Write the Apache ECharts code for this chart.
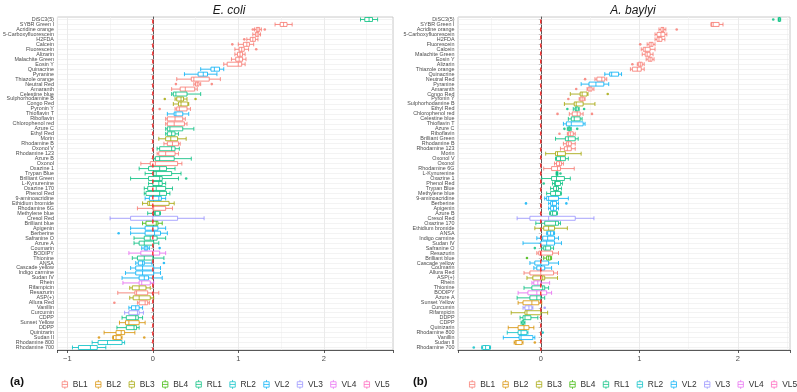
<!DOCTYPE html>
<html>
<head>
<meta charset="utf-8">
<script src="https://cdn.jsdelivr.net/npm/echarts@6/dist/echarts.min.js"></script>
<style>
html, body { margin: 0; padding: 0; background: #fff; }
#chart { width: 797px; height: 392px; }
</style>
</head>
<body>
<div id="chart"></div>
<script>
// channels and their ggplot hue colours
const channels = ['BL1', 'BL2', 'BL3', 'BL4', 'RL1', 'RL2', 'VL2', 'VL3', 'VL4', 'VL5']
const channelColors = ['#F8766D', '#D89000', '#A3A500', '#39B600', '#00BF7D', '#00BFC4', '#00B0F6', '#9590FF', '#E76BF3', '#FF62BC']

// ---- E. coli (top to bottom) ----
const ecoliDyes = ['DiSC3(5)', 'SYBR Green I', 'Acridine orange', '5-Carboxyfluorescein', 'H2FDA', 'Calcein', 'Fluorescein', 'Alizarin', 'Malachite Green', 'Eosin Y',
  'Quinacrine', 'Pyranine', 'Thiazole orange', 'Neutral Red', 'Amaranth', 'Celestine blue', 'Sulphorhodamine B', 'Congo Red', 'Pyronin Y', 'Thioflavin T',
  'Riboflavin', 'Chlorophenol red', 'Azure C', 'Ethyl Red', 'Morin', 'Rhodamine B', 'Oxonol V', 'Rhodamine 123', 'Azure B', 'Oxonol',
  'Oxazine 1', 'Trypan Blue', 'Brilliant Green', 'L-Kynurenine', 'Oxazine 170', 'Phenol Red', '9-aminoacridine', 'Ethidium bromide', 'Rhodamine 6G', 'Methylene blue',
  'Cresol Red', 'Brilliant blue', 'Apigenin', 'Berberine', 'Safranine O', 'Azure A', 'Coumarin', 'BODIPY', 'Thionine', 'ANSA',
  'Cascade yellow', 'Indigo carmine', 'Sudan IV', 'Rhein', 'Rifampicin', 'Resazurin', 'ASP(+)', 'Allura Red', 'Vanillin', 'Curcumin',
  'CDPP', 'Sunset Yellow', 'DDPP', 'Quinizarin', 'Sudan II', 'Rhodamine 800', 'Rhodamine 700']
const ecoliChannel = ['RL1', 'BL1', 'BL1', 'BL1', 'BL1', 'BL1', 'BL1', 'BL1', 'BL1', 'BL1',
  'VL2', 'VL2', 'BL1', 'BL1', 'BL1', 'RL1', 'BL3', 'BL3', 'BL1', 'VL2',
  'BL1', 'BL1', 'RL1', 'RL1', 'BL3', 'BL1', 'RL1', 'BL1', 'RL1', 'BL1',
  'RL1', 'RL1', 'RL1', 'RL1', 'RL1', 'RL1', 'VL2', 'BL3', 'BL1', 'RL1',
  'VL3', 'BL4', 'VL2', 'VL2', 'RL1', 'RL1', 'VL2', 'VL4', 'RL1', 'VL2',
  'VL2', 'VL2', 'VL2', 'VL4', 'BL3', 'BL1', 'BL3', 'BL1', 'VL2', 'VL3',
  'RL1', 'BL2', 'RL1', 'BL2', 'BL2', 'RL2', 'RL2']
// [min, Q1, median, Q3, max]
const ecoliBoxes = [
  [2.43, 2.48, 2.53, 2.57, 2.63], [1.43, 1.49, 1.53, 1.57, 1.63], [1.19, 1.21, 1.23, 1.25, 1.27], [1.17, 1.2, 1.22, 1.24, 1.26], [1.1, 1.14, 1.17, 1.2, 1.23],
  [1.0, 1.06, 1.1, 1.13, 1.18], [0.96, 1.01, 1.04, 1.07, 1.12], [0.96, 0.99, 1.02, 1.05, 1.08], [0.92, 0.97, 1.01, 1.05, 1.09], [0.83, 0.87, 1.0, 1.04, 1.08],
  [0.56, 0.68, 0.72, 0.78, 0.83], [0.37, 0.53, 0.59, 0.64, 0.75], [0.28, 0.45, 0.48, 0.66, 0.79], [0.48, 0.5, 0.52, 0.54, 0.56], [0.22, 0.32, 0.38, 0.49, 0.52],
  [0.22, 0.24, 0.27, 0.4, 0.56], [0.26, 0.28, 0.33, 0.36, 0.4], [0.24, 0.3, 0.33, 0.41, 0.42], [0.26, 0.28, 0.31, 0.4, 0.44], [0.17, 0.25, 0.27, 0.35, 0.42],
  [0.15, 0.17, 0.26, 0.35, 0.38], [0.15, 0.17, 0.25, 0.37, 0.4], [0.15, 0.17, 0.2, 0.35, 0.48], [0.15, 0.17, 0.22, 0.26, 0.3], [0.07, 0.15, 0.21, 0.29, 0.39],
  [0.13, 0.17, 0.23, 0.3, 0.32], [0.05, 0.08, 0.22, 0.26, 0.31], [0.05, 0.07, 0.15, 0.26, 0.3], [0.01, 0.03, 0.08, 0.25, 0.45], [-0.14, -0.03, 0.03, 0.29, 0.34],
  [-0.16, -0.05, 0.08, 0.16, 0.26], [-0.09, 0.01, 0.04, 0.22, 0.33], [-0.26, -0.05, 0.08, 0.11, 0.3], [-0.05, 0.0, 0.07, 0.11, 0.15], [-0.1, -0.06, 0.04, 0.15, 0.23],
  [-0.1, -0.08, 0.08, 0.16, 0.2], [-0.09, -0.04, 0.07, 0.1, 0.15], [-0.12, -0.06, -0.04, 0.19, 0.25], [-0.18, 0.0, 0.01, 0.15, 0.23], [-0.06, 0.02, 0.03, 0.08, 0.09],
  [-0.5, -0.26, 0.0, 0.29, 0.6], [-0.12, -0.08, 0.04, 0.06, 0.11], [-0.26, -0.09, 0.0, 0.06, 0.15], [-0.26, -0.09, 0.02, 0.09, 0.17], [-0.22, -0.1, -0.03, 0.05, 0.15],
  [-0.22, -0.16, -0.1, 0.01, 0.07], [-0.13, -0.1, -0.08, -0.06, -0.04], [-0.28, -0.14, 0.0, 0.08, 0.15], [-0.24, -0.18, -0.1, 0.0, 0.13], [-0.2, -0.17, -0.12, -0.1, -0.01],
  [-0.26, -0.2, -0.12, 0.01, 0.09], [-0.32, -0.2, -0.12, 0.01, 0.09], [-0.36, -0.16, -0.1, -0.05, 0.11], [-0.35, -0.16, -0.13, -0.03, 0.01], [-0.27, -0.24, -0.16, -0.08, -0.03],
  [-0.41, -0.21, -0.19, -0.06, 0.07], [-0.27, -0.23, -0.16, -0.03, 0.01], [-0.18, -0.16, -0.09, -0.06, -0.04], [-0.28, -0.25, -0.2, -0.16, -0.12], [-0.33, -0.28, -0.18, -0.16, -0.11],
  [-0.36, -0.31, -0.2, -0.17, -0.12], [-0.39, -0.32, -0.28, -0.16, -0.09], [-0.42, -0.31, -0.22, -0.19, -0.16], [-0.57, -0.43, -0.37, -0.33, -0.21], [-0.47, -0.46, -0.43, -0.37, -0.36],
  [-0.71, -0.64, -0.53, -0.36, -0.33], [-0.94, -0.87, -0.73, -0.65, -0.55]]
// [dye index, value]
const ecoliOutliers = [[2, 1.17], [2, 1.31], [4, 1.07], [5, 0.93], [6, 1.21], [13, 0.27], [13, 0.69], [16, 0.14], [16, 0.5], [18, 0.08],
  [32, 0.39], [43, -0.4], [46, 0.08], [49, 0.13], [57, -0.45], [64, -0.63], [64, -0.1]]

// ---- A. baylyi (top to bottom) ----
const baylyiDyes = ['DiSC3(5)', 'SYBR Green I', 'Acridine orange', '5-Carboxyfluorescein', 'H2FDA', 'Fluorescein', 'Calcein', 'Malachite Green', 'Eosin Y', 'Alizarin',
  'Thiazole orange', 'Quinacrine', 'Neutral Red', 'Pyranine', 'Amaranth', 'Congo Red', 'Pyronin Y', 'Sulphorhodamine B', 'Ethyl Red', 'Chlorophenol red',
  'Celestine blue', 'Thioflavin T', 'Azure C', 'Riboflavin', 'Brilliant Green', 'Rhodamine B', 'Rhodamine 123', 'Morin', 'Oxonol V', 'Oxonol',
  'Rhodamine 6G', 'L-Kynurenine', 'Oxazine 1', 'Phenol Red', 'Trypan Blue', 'Methylene blue', '9-aminoacridine', 'Berberine', 'Apigenin', 'Azure B',
  'Cresol Red', 'Oxazine 170', 'Ethidium bromide', 'ANSA', 'Indigo carmine', 'Sudan IV', 'Safranine O', 'Resazurin', 'Brilliant blue', 'Cascade yellow',
  'Coumarin', 'Allura Red', 'ASP(+)', 'Rhein', 'Thionine', 'BODIPY', 'Azure A', 'Sunset Yellow', 'Curcumin', 'Rifampicin',
  'DDPP', 'CDPP', 'Quinizarin', 'Rhodamine 800', 'Vanillin', 'Sudan II', 'Rhodamine 700']
const baylyiChannel = ['RL1', 'BL1', 'BL1', 'BL1', 'BL1', 'BL1', 'BL1', 'BL1', 'BL1', 'BL1',
  'BL1', 'VL2', 'BL1', 'VL2', 'BL1', 'BL3', 'BL1', 'BL3', 'RL1', 'BL1',
  'RL1', 'VL2', 'RL1', 'BL1', 'RL1', 'BL1', 'BL1', 'BL3', 'RL1', 'BL1',
  'BL1', 'RL1', 'RL1', 'RL1', 'RL1', 'RL1', 'VL2', 'VL2', 'VL2', 'RL1',
  'VL3', 'RL1', 'BL3', 'VL2', 'VL2', 'VL2', 'RL1', 'BL1', 'BL4', 'VL2',
  'VL2', 'BL1', 'BL3', 'VL4', 'RL1', 'VL4', 'RL1', 'BL2', 'VL3', 'BL3',
  'RL1', 'RL1', 'BL2', 'RL2', 'VL2', 'BL2', 'RL2']
const baylyiBoxes = [
  [2.41, 2.415, 2.42, 2.43, 2.435], [1.73, 1.73, 1.75, 1.81, 1.85], [1.2, 1.22, 1.24, 1.25, 1.27], [1.16, 1.18, 1.22, 1.26, 1.28], [1.16, 1.18, 1.2, 1.23, 1.26],
  [1.08, 1.1, 1.12, 1.14, 1.16], [1.02, 1.04, 1.06, 1.11, 1.16], [1.03, 1.06, 1.08, 1.11, 1.14], [1.07, 1.09, 1.11, 1.13, 1.15], [0.98, 0.99, 1.01, 1.03, 1.05],
  [0.91, 0.93, 0.98, 1.02, 1.05], [0.65, 0.7, 0.72, 0.79, 0.82], [0.55, 0.57, 0.62, 0.65, 0.67], [0.41, 0.49, 0.56, 0.64, 0.69], [0.47, 0.48, 0.5, 0.52, 0.54],
  [0.3, 0.4, 0.42, 0.47, 0.48], [0.39, 0.4, 0.42, 0.44, 0.45], [0.24, 0.34, 0.36, 0.43, 0.55], [0.33, 0.35, 0.36, 0.38, 0.39], [0.29, 0.32, 0.37, 0.4, 0.43],
  [0.28, 0.31, 0.34, 0.4, 0.42], [0.23, 0.26, 0.31, 0.43, 0.45], [0.27, 0.28, 0.29, 0.3, 0.31], [0.27, 0.28, 0.3, 0.33, 0.35], [0.15, 0.25, 0.28, 0.35, 0.38],
  [0.23, 0.26, 0.28, 0.31, 0.35], [0.2, 0.24, 0.27, 0.31, 0.35], [0.05, 0.15, 0.17, 0.25, 0.41], [0.15, 0.16, 0.2, 0.25, 0.28], [0.14, 0.16, 0.19, 0.21, 0.23],
  [0.03, 0.11, 0.17, 0.2, 0.34], [0.155, 0.16, 0.165, 0.17, 0.175], [0.01, 0.11, 0.16, 0.24, 0.3], [0.12, 0.14, 0.15, 0.2, 0.22], [0.1, 0.13, 0.16, 0.18, 0.21],
  [0.06, 0.1, 0.15, 0.2, 0.21], [0.04, 0.06, 0.08, 0.18, 0.28], [0.08, 0.1, 0.12, 0.16, 0.18], [0.08, 0.1, 0.13, 0.16, 0.18], [0.09, 0.1, 0.12, 0.16, 0.17],
  [-0.24, -0.11, 0.08, 0.35, 0.54], [-0.05, 0.04, 0.15, 0.18, 0.2], [-0.06, 0.03, 0.08, 0.14, 0.27], [0.06, 0.07, 0.1, 0.13, 0.14], [-0.04, 0.02, 0.07, 0.14, 0.18],
  [-0.18, 0.0, 0.06, 0.14, 0.21], [0.01, 0.03, 0.05, 0.1, 0.13], [-0.04, -0.02, 0.0, 0.12, 0.18], [0.03, 0.06, 0.08, 0.1, 0.11], [-0.11, -0.06, 0.0, 0.08, 0.18],
  [-0.07, -0.04, 0.0, 0.04, 0.11], [-0.17, -0.11, 0.0, 0.13, 0.17], [-0.14, -0.08, 0.02, 0.04, 0.17], [-0.09, -0.07, -0.03, 0.0, 0.09], [-0.17, -0.09, 0.02, 0.04, 0.08],
  [-0.23, -0.13, -0.04, 0.06, 0.11], [-0.24, -0.11, -0.04, 0.0, 0.04], [-0.23, -0.18, -0.09, -0.02, 0.01], [-0.18, -0.16, -0.12, -0.09, -0.08], [-0.3, -0.16, -0.14, 0.0, 0.07],
  [-0.21, -0.18, -0.16, -0.1, -0.03], [-0.2, -0.19, -0.18, -0.17, -0.16], [-0.33, -0.23, -0.17, -0.12, -0.07], [-0.34, -0.23, -0.2, -0.14, -0.13], [-0.38, -0.22, -0.2, -0.08, -0.06],
  [-0.27, -0.26, -0.25, -0.19, -0.18], [-0.6, -0.59, -0.56, -0.52, -0.51]]
const baylyiOutliers = [[0, 2.36], [2, 1.38], [5, 1.01], [9, 0.93], [12, 0.45], [14, 0.36], [15, 0.68], [16, 0.28], [18, 0.27], [18, 0.44],
  [19, 0.17], [19, 0.52], [22, 0.24], [22, 0.37], [23, 0.19], [31, 0.2], [33, 0.03], [37, -0.15], [37, 0.26], [46, -0.06],
  [48, -0.14], [58, 0.04], [63, 0.02], [65, -0.06], [66, -0.68]]

const xRanges = [[-1.116, 2.81], [-0.84, 2.53]]
const font = 'Liberation Sans, Arial, sans-serif'
const boxIcon = 'path://M3,0V2M0,2H6V8H0ZM0,5H6M3,8V10'

const colorOf = ch => channelColors[channels.indexOf(ch)]

const chart = echarts.init(document.getElementById('chart'))

const grids = [
  { left: 55, right: 404, top: 17, bottom: 42 },
  { left: 458, right: 7, top: 17, bottom: 42 }
]

function buildAxes (i, dyes) {
  const [min, max] = xRanges[i]
  // ticks at 0.5 steps start at the edge value, so pick which parity is the integer line
  const firstHalf = Math.ceil(min / 0.5) * 0.5
  const oddIsMajor = Number.isInteger(firstHalf)
  const major = '#E2E2E2'
  const minor = '#F2F2F2'
  const gridAxis = {
    gridIndex: i,
    type: 'value',
    min,
    max,
    splitNumber: 8,
    axisLine: { show: true, onZero: false, lineStyle: { color: '#333', width: 0.8 } },
    axisTick: { show: false },
    axisLabel: { show: false },
    splitLine: { show: true, lineStyle: { color: oddIsMajor ? [minor, major] : [major, minor], width: 0.7 } }
  }
  const labelAxis = {
    gridIndex: i,
    type: 'value',
    position: 'bottom',
    min,
    max,
    splitNumber: 4,
    axisLine: { show: false, onZero: false },
    axisTick: { show: true, length: 3, lineStyle: { color: '#333', width: 0.8 } },
    axisLabel: {
      fontSize: 7.5,
      fontFamily: font,
      color: '#4D4D4D',
      margin: 5,
      formatter: v => Math.abs(v - Math.round(v)) < 1e-6 ? String(Math.round(v)).replace('-', '\u2212') : ''
    },
    splitLine: { show: false }
  }
  const yAxis = {
    gridIndex: i,
    type: 'category',
    data: dyes,
    inverse: true,
    axisLine: { show: true, lineStyle: { color: '#333', width: 0.8 } },
    axisTick: { show: true, alignWithLabel: true, length: 2, lineStyle: { color: '#333', width: 0.6 } },
    axisLabel: { interval: 0, fontSize: 5.4, fontFamily: font, color: '#4D4D4D', margin: 3.5 },
    splitLine: { show: false }
  }
  return { x: [gridAxis, labelAxis], y: yAxis }
}

function buildSeries (i, dyes, chans, boxes, outliers) {
  return [
    {
      type: 'boxplot',
      xAxisIndex: i * 2,
      yAxisIndex: i,
      boxWidth: [4, 4],
      silent: true,
      itemStyle: { color: '#fff', borderWidth: 0.8 },
      data: boxes.map((b, k) => ({ value: b, itemStyle: { borderColor: colorOf(chans[k]) } })),
      markLine: {
        silent: true,
        symbol: 'none',
        z: 1,
        animation: false,
        label: { show: false },
        lineStyle: { color: '#EBEBEB', width: 0.6, type: 'solid' },
        data: dyes.map((d, k) => ({ yAxis: k }))
      }
    },
    {
      type: 'scatter',
      xAxisIndex: i * 2,
      yAxisIndex: i,
      symbolSize: 2.6,
      silent: true,
      data: outliers.map(o => ({ value: [o[1], o[0]], itemStyle: { color: colorOf(chans[o[0]]) } }))
    },
    {
      // vertical reference line at 0, spanning the full category range
      type: 'line',
      xAxisIndex: i * 2,
      yAxisIndex: i,
      silent: true,
      z: 8,
      symbol: 'none',
      data: [[0, -0.5], [0, dyes.length - 0.5]],
      lineStyle: { color: '#FF3030', width: 1.4, type: [4, 4], cap: 'butt' }
    }
  ]
}

const axesA = buildAxes(0, ecoliDyes)
const axesB = buildAxes(1, baylyiDyes)

// empty series only to feed the two legends
const legendSeries = channels.map((c, k) => ({
  type: 'scatter',
  name: c,
  xAxisIndex: 0,
  yAxisIndex: 0,
  data: [],
  itemStyle: { color: channelColors[k] }
}))

const legendBase = {
  data: channels.map((c, k) => ({
    name: c,
    icon: boxIcon,
    itemStyle: { color: '#fff', borderColor: channelColors[k], borderWidth: 0.9 }
  })),
  top: 379.5,
  padding: 0,
  width: 345,
  itemWidth: 6,
  itemHeight: 9,
  itemGap: 7.4,
  selectedMode: false,
  textStyle: { fontSize: 8.4, fontFamily: font, color: '#333' }
}

const option = {
  animation: false,
  backgroundColor: '#fff',
  title: [
    { text: 'E. coli', left: 224, textAlign: 'center', top: 0, textStyle: { fontStyle: 'italic', fontWeight: 'normal', fontSize: 12, fontFamily: font, color: '#1a1a1a' } },
    { text: 'A. baylyi', left: 628, textAlign: 'center', top: 0, textStyle: { fontStyle: 'italic', fontWeight: 'normal', fontSize: 12, fontFamily: font, color: '#1a1a1a' } },
    { text: '(a)', left: 10, top: 376, padding: 0, textStyle: { fontWeight: 'bold', fontSize: 11.5, fontFamily: font, color: '#111' } },
    { text: '(b)', left: 413, top: 376, padding: 0, textStyle: { fontWeight: 'bold', fontSize: 11.5, fontFamily: font, color: '#111' } }
  ],
  legend: [
    Object.assign({}, legendBase, { left: 61.7 }),
    Object.assign({}, legendBase, { left: 469 })
  ],
  grid: grids.map(g => Object.assign({ show: true, borderColor: '#BDBDBD', borderWidth: 0.8, containLabel: false }, g)),
  xAxis: [...axesA.x, ...axesB.x],
  yAxis: [axesA.y, axesB.y],
  series: [
    ...buildSeries(0, ecoliDyes, ecoliChannel, ecoliBoxes, ecoliOutliers),
    ...buildSeries(1, baylyiDyes, baylyiChannel, baylyiBoxes, baylyiOutliers),
    ...legendSeries
  ]
}

chart.setOption(option)

window.addEventListener('resize', () => {
  chart.resize()
})
</script>
</body>
</html>
